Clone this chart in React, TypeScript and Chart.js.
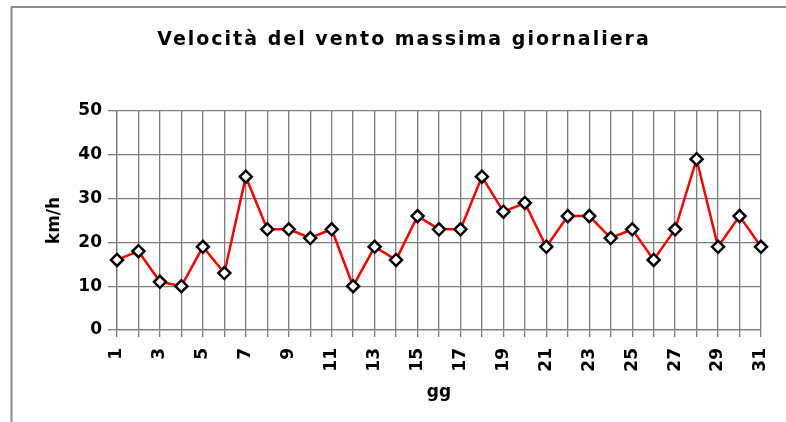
import React, { useEffect, useRef } from "react";
import { Chart, registerables } from "chart.js";

Chart.register(...registerables);

const titleText = "Velocità del vento massima giornaliera";
const xTitle = "gg";
const yTitle = "km/h";
const days = ["1","2","3","4","5","6","7","8","9","10","11","12","13","14","15","16","17","18","19","20","21","22","23","24","25","26","27","28","29","30","31"];
const windSpeed = [16,18,11,10,19,13,35,23,23,21,23,10,19,16,26,23,23,35,27,29,19,26,26,21,23,16,23,39,19,26,19];
const yTicks = { min: 0, max: 50, step: 10 };

const FONT = '"DejaVu Sans", "Liberation Sans", Arial, sans-serif';
const GRID = "#7c7c7c";

const framePlugin = {
  id: "frameAndTitle",
  beforeDraw(chart: any) {
    const ctx = chart.ctx;
    ctx.save();
    ctx.fillStyle = "#fff";
    ctx.fillRect(0, 0, chart.width, chart.height);
    ctx.strokeStyle = "#8c8c8c";
    ctx.lineWidth = 2;
    ctx.beginPath();
    ctx.moveTo(11.5, chart.height);
    ctx.lineTo(11.5, 7);
    ctx.lineTo(chart.width, 7);
    ctx.stroke();
    ctx.restore();
  },
  afterDraw(chart: any) {
    const ctx = chart.ctx;
    ctx.save();
    ctx.font = `bold 19px ${FONT}`;
    (ctx as any).letterSpacing = "2px";
    ctx.fillStyle = "#000";
    ctx.textAlign = "center";
    ctx.textBaseline = "alphabetic";
    ctx.fillText(titleText, 404, 45);
    ctx.restore();
  },
};

export default function App() {
  const ref = useRef<HTMLCanvasElement | null>(null);
  useEffect(() => {
    if (!ref.current) return;
    const chart = new Chart(ref.current, {
      type: "line",
      data: {
        labels: days,
        datasets: [
          {
            data: windSpeed,
            borderColor: "#ff0000",
            borderWidth: 2.5,
            pointStyle: "rectRot",
            pointRadius: 6,
            pointBorderWidth: 2.5,
            pointBorderColor: "#000",
            pointBackgroundColor: "#fff",
            tension: 0,
          },
        ],
      },
      options: {
        animation: false,
        responsive: false,
        events: [],
        layout: { padding: { left: 0, right: 25, top: 111, bottom: 0 } },
        plugins: {
          legend: { display: false },
          tooltip: { enabled: false },
          title: { display: false },
        },
        scales: {
          x: {
            offset: false,
            afterFit: (s: any) => {
              s.height = 92;
              s.paddingLeft = 0;
              s.paddingRight = 0;
            },
            grid: { color: GRID, lineWidth: 1.3, tickLength: 7, drawOnChartArea: true },
            border: { color: GRID, width: 1.3 },
            ticks: {
              autoSkip: false,
              maxRotation: 90,
              minRotation: 90,
              padding: 11,
              color: "#000",
              font: { family: FONT, size: 17, weight: "bold" },
              callback: (_v: any, i: number) => (i % 2 === 0 ? days[i] : ""),
            },
            title: {
              display: true,
              text: xTitle,
              color: "#000",
              font: { family: FONT, size: 17, weight: "bold" },
              padding: { top: 0, bottom: 19 },
            },
          },
          y: {
            min: yTicks.min,
            max: yTicks.max,
            afterFit: (s: any) => { s.width = 117; },
            grid: { color: GRID, lineWidth: 1.3, tickLength: 9 },
            border: { color: GRID, width: 1.3 },
            ticks: {
              stepSize: yTicks.step,
              padding: 6,
              color: "#000",
              font: { family: FONT, size: 17, weight: "bold" },
            },
            title: {
              display: true,
              text: yTitle,
              color: "#000",
              font: { family: FONT, size: 17, weight: "bold" },
              padding: { top: 44, bottom: 0 },
            },
          },
        },
      },
      plugins: [framePlugin],
    });
    return () => chart.destroy();
  }, []);
  return (
    <div style={{ position: "fixed", left: 0, top: 0, width: 786, height: 422, background: "#fff" }}>
      <canvas ref={ref} width={786} height={422} style={{ display: "block" }} />
    </div>
  );
}
